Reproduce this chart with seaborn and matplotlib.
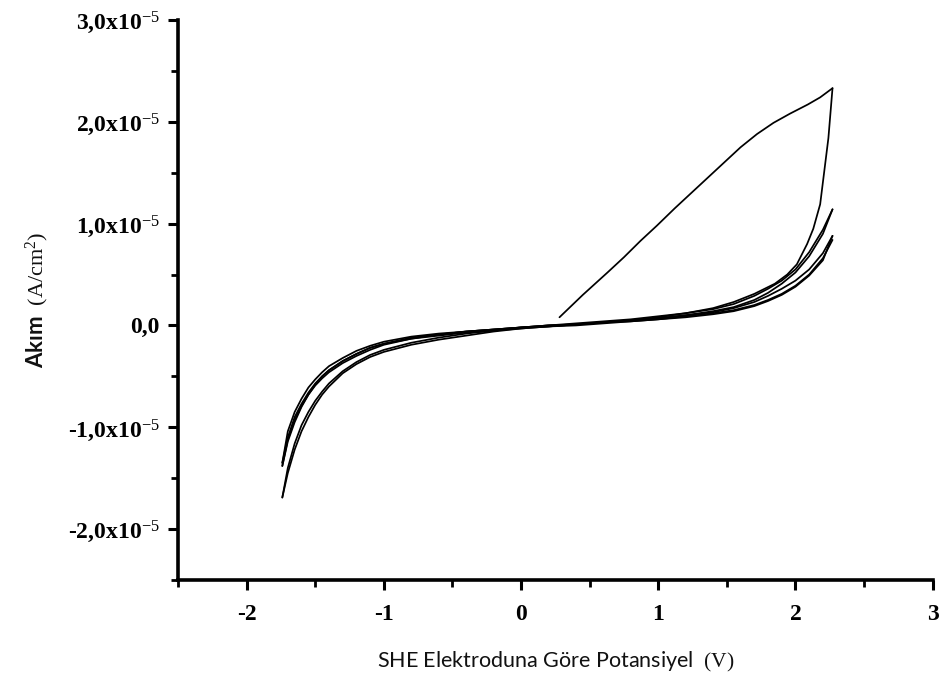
import numpy as np
import pandas as pd
import matplotlib
matplotlib.use("Agg")
import matplotlib.pyplot as plt
from matplotlib.ticker import MultipleLocator, FuncFormatter
import seaborn as sns

# Current density values are given in units of 1e-5 A/cm^2
UNIT = 1e-5

# First anodic sweep (starts at the open-circuit potential)
E_fwd1 = [0.28, 0.45, 0.63, 0.75, 0.87, 0.99, 1.12, 1.24, 1.36, 1.48, 1.60, 1.72, 1.84,
          1.96, 2.09, 2.18, 2.27]
I_fwd1 = [0.08, 0.30, 0.52, 0.67, 0.83, 0.98, 1.15, 1.30, 1.45, 1.60, 1.75, 1.88, 1.99,
          2.08, 2.17, 2.24, 2.33]

# First cathodic (reverse) sweep
E_rev1 = [2.27, 2.24, 2.18, 2.13, 2.085, 2.01, 1.94, 1.85, 1.70, 1.55, 1.40, 1.20, 1.00,
          0.80, 0.60, 0.40, 0.20, 0.00, -0.20, -0.40, -0.60, -0.80, -1.00, -1.10, -1.20,
          -1.30, -1.40, -1.45, -1.50, -1.55, -1.60, -1.65, -1.70, -1.74]
I_rev1 = [2.33, 1.84, 1.19, 0.95, 0.80, 0.60, 0.50, 0.41, 0.31, 0.23, 0.17, 0.12, 0.08,
          0.05, 0.03, 0.01, -0.01, -0.03, -0.06, -0.10, -0.14, -0.19, -0.26, -0.31, -0.38,
          -0.47, -0.60, -0.68, -0.78, -0.90, -1.04, -1.22, -1.45, -1.69]

# Potential grid shared by the following sweeps
E_grid = [-1.74, -1.70, -1.65, -1.60, -1.55, -1.50, -1.45, -1.40, -1.30, -1.20, -1.10,
          -1.00, -0.80, -0.60, -0.40, -0.20, 0.00, 0.20, 0.40, 0.60, 0.80, 1.00, 1.20,
          1.40, 1.55, 1.70, 1.80, 1.90, 2.00, 2.10, 2.20, 2.27]

I_fwd2 = [-1.69, -1.40, -1.16, -0.98, -0.85, -0.74, -0.65, -0.57, -0.45, -0.36, -0.29,
          -0.24, -0.17, -0.12, -0.08, -0.05, -0.02, 0.00, 0.02, 0.04, 0.06, 0.09, 0.12,
          0.16, 0.21, 0.29, 0.36, 0.44, 0.55, 0.72, 0.94, 1.14]
I_rev2 = [-1.35, -1.04, -0.85, -0.72, -0.61, -0.53, -0.46, -0.40, -0.32, -0.25, -0.20,
          -0.16, -0.11, -0.08, -0.06, -0.04, -0.02, -0.01, 0.01, 0.03, 0.05, 0.07, 0.10,
          0.14, 0.18, 0.25, 0.32, 0.41, 0.52, 0.68, 0.90, 1.14]
I_fwd3 = [-1.35, -1.10, -0.90, -0.77, -0.66, -0.57, -0.50, -0.44, -0.35, -0.28, -0.22,
          -0.18, -0.12, -0.09, -0.06, -0.04, -0.02, 0.00, 0.01, 0.03, 0.05, 0.07, 0.10,
          0.13, 0.17, 0.23, 0.29, 0.36, 0.44, 0.55, 0.71, 0.88]
I_rev3 = [-1.38, -1.14, -0.95, -0.80, -0.68, -0.58, -0.50, -0.44, -0.35, -0.28, -0.22,
          -0.18, -0.13, -0.10, -0.07, -0.05, -0.03, -0.01, 0.00, 0.02, 0.04, 0.06, 0.08,
          0.11, 0.14, 0.19, 0.24, 0.30, 0.38, 0.49, 0.64, 0.88]
I_fwd4 = [-1.38, -1.12, -0.93, -0.79, -0.68, -0.59, -0.52, -0.46, -0.37, -0.30, -0.24,
          -0.19, -0.13, -0.09, -0.06, -0.04, -0.02, 0.00, 0.01, 0.03, 0.04, 0.06, 0.09,
          0.12, 0.15, 0.20, 0.25, 0.31, 0.39, 0.50, 0.66, 0.84]

# Axis ticks
x_ticks = [-2, -1, 0, 1, 2, 3]
y_ticks = [-2.0, -1.0, 0.0, 1.0, 2.0, 3.0]

sweeps = [("fwd1", E_fwd1, I_fwd1), ("rev1", E_rev1, I_rev1),
          ("fwd2", E_grid, I_fwd2), ("rev2", E_grid, I_rev2),
          ("fwd3", E_grid, I_fwd3), ("rev3", E_grid, I_rev3),
          ("fwd4", E_grid, I_fwd4)]
frames = []
for name, e, i in sweeps:
    frames.append(pd.DataFrame({"E": e, "I": np.asarray(i) * UNIT, "sweep": name}))
df = pd.concat(frames, ignore_index=True)

sns.set_theme(style="ticks")
plt.rcParams.update({
    "mathtext.fontset": "custom",
    "mathtext.rm": "Liberation Serif",
    "mathtext.it": "Liberation Serif:italic",
    "mathtext.bf": "Liberation Serif:bold",
    "font.family": ["Liberation Serif", "DejaVu Sans"],
})

fig = plt.figure(figsize=(9.44, 6.82), dpi=100)
ax = fig.add_axes([0.1886, 0.1496, 0.7994, 0.8211])

sns.lineplot(data=df, x="E", y="I", units="sweep", estimator=None, sort=False,
             color="black", linewidth=1.25, ax=ax, legend=False)

ax.set_xlim(-2.5, 3.0)
ax.set_ylim(-2.5 * UNIT, 3.0 * UNIT)

ax.xaxis.set_minor_locator(MultipleLocator(0.5))
ax.yaxis.set_minor_locator(MultipleLocator(0.5 * UNIT))
ax.set_xticks(x_ticks)
ax.set_yticks([v * UNIT for v in y_ticks])


def y_fmt(v, pos):
    m = v / UNIT
    if abs(m) < 1e-9:
        return "0,0"
    return f"{m:.1f}".replace(".", ",") + r"x10$^{-5}$"


ax.yaxis.set_major_formatter(FuncFormatter(y_fmt))
ax.xaxis.set_major_formatter(FuncFormatter(lambda v, p: f"{v:.0f}"))

for lab in ax.get_xticklabels() + ax.get_yticklabels():
    lab.set_fontfamily("Liberation Serif")
    lab.set_fontweight("bold")
    lab.set_fontsize(17)

ax.tick_params(which="major", direction="out", length=7, width=2.2, colors="black", pad=6)
ax.tick_params(axis="x", which="major", pad=10)
ax.tick_params(which="minor", direction="out", length=5, width=2.0, colors="black")

sns.despine(ax=ax)
for side in ("left", "bottom"):
    ax.spines[side].set_linewidth(2.6)
    ax.spines[side].set_color("black")

ax.set_xlabel(r"SHE Elektroduna Göre Potansiyel  $\mathrm{(V)}$", fontfamily="Lato",
              fontsize=15.5, color="#111111", labelpad=18)
ax.set_ylabel(r"Akım  $\mathrm{(A/cm^2)}$", fontfamily="Lato", fontweight="bold",
              fontsize=16, color="#111111", labelpad=12)

fig.savefig("out.png", dpi=100)
